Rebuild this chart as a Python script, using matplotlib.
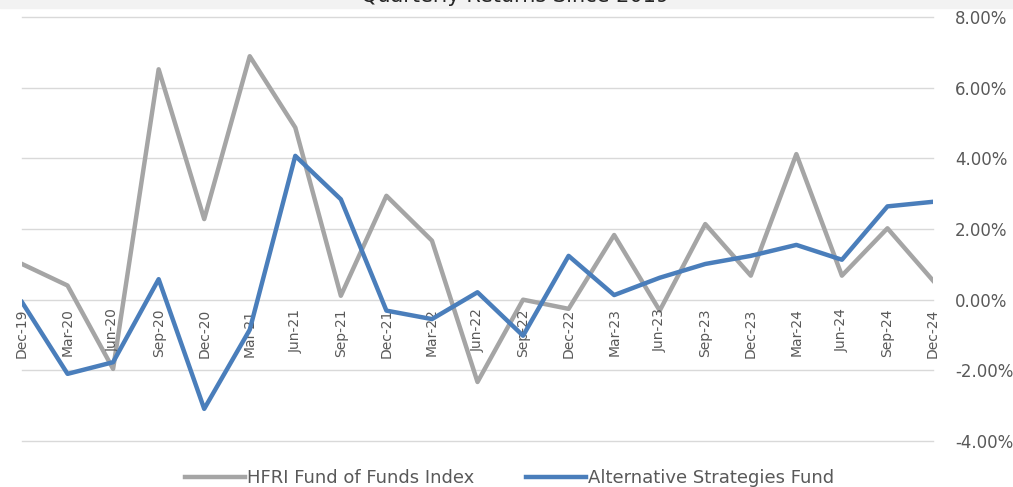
import matplotlib
matplotlib.use("Agg")
import matplotlib.pyplot as plt
from matplotlib.patches import Rectangle
from matplotlib.ticker import FuncFormatter

plt.rcParams['font.family'] = ['DejaVu Sans']

# Quarter-end labels
quarters = ["Dec-19", "Mar-20", "Jun-20", "Sep-20", "Dec-20", "Mar-21", "Jun-21",
            "Sep-21", "Dec-21", "Mar-22", "Jun-22", "Sep-22", "Dec-22", "Mar-23",
            "Jun-23", "Sep-23", "Dec-23", "Mar-24", "Jun-24", "Sep-24", "Dec-24"]

# Quarterly returns (%)
hfri = [1.01, 0.40, -1.96, 6.52, 2.28, 6.89, 4.87, 0.11, 2.94, 1.67, -2.33,
        0.00, -0.26, 1.83, -0.31, 2.14, 0.68, 4.12, 0.68, 2.02, 0.54]
alt_fund = [-0.07, -2.10, -1.77, 0.58, -3.09, -0.85, 4.07, 2.84, -0.31, -0.55, 0.21,
            -1.02, 1.24, 0.13, 0.62, 1.01, 1.24, 1.55, 1.13, 2.64, 2.77]

series_names = ["HFRI Fund of Funds Index", "Alternative Strategies Fund"]
title = "Quarterly Returns Since 2019"

fig = plt.figure(figsize=(10.13, 4.87), dpi=100)
ax = fig.add_axes([22 / 1013, 1 - 441 / 487, (933 - 22) / 1013, (441 - 17) / 487])

x = list(range(len(quarters)))
ax.plot(x, hfri, color="#a5a5a5", lw=3.2, label=series_names[0], zorder=3)
ax.plot(x, alt_fund, color="#4a7ebb", lw=3.2, label=series_names[1], zorder=4)

ax.set_xlim(0, len(quarters) - 1)
ax.set_ylim(-4, 8)
ax.set_yticks([-4, -2, 0, 2, 4, 6, 8])
ax.yaxis.set_major_formatter(FuncFormatter(lambda v, p: f"{v:.2f}%"))
ax.yaxis.tick_right()
ax.tick_params(axis="y", length=0, pad=16, labelsize=12, labelcolor="#595959")
ax.set_xticks([])
ax.grid(axis="y", color="#d9d9d9", lw=1.0, zorder=0)
for gl in ax.get_ygridlines():
    gl.set_clip_on(False)
for s in ax.spines.values():
    s.set_visible(False)

# category labels sit right under the zero line
for i, q in enumerate(quarters):
    ax.text(i, -0.25, q, rotation=90, ha="center", va="top", fontsize=10, color="#595959")

# cropped title band at the top
fig.patches.append(Rectangle((0, 1 - 8 / 487), 1, 8 / 487, transform=fig.transFigure,
                             color="#f2f2f2", zorder=-1))
fig.text(0.509, 1 - 2.5 / 487, title, ha="center", va="baseline", fontsize=15, color="#262626")

fig.legend(loc="center", bbox_to_anchor=(0.503, 0.018), ncol=2, frameon=False,
           fontsize=13, labelcolor="#595959", handlelength=3.3, handletextpad=0.1,
           columnspacing=2.9)

fig.savefig("out.png", dpi=100)
